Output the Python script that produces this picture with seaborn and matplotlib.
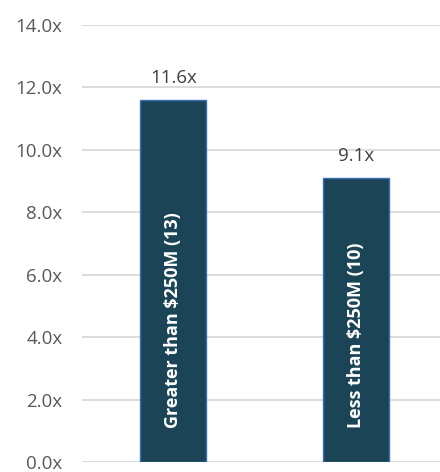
import matplotlib
matplotlib.use("Agg")
import matplotlib.pyplot as plt
import seaborn as sns
import pandas as pd

categories = ["Greater than $250M (13)", "Less than $250M (10)"]
values = [11.6, 9.1]
yticks = [0, 2, 4, 6, 8, 10, 12, 14]

sns.set_style("white")
plt.rcParams['font.family'] = ['Open Sans', 'DejaVu Sans']

df = pd.DataFrame({"cat": categories, "val": values})

fig = plt.figure(figsize=(4.4, 4.72), dpi=100)
# axes extends slightly beyond right edge (as in the cropped reference)
ax = fig.add_axes([82/440, (472-462)/472, (447.5-82)/440, 437/472])

sns.barplot(data=df, x="cat", y="val", ax=ax, color="#1B4556",
            width=0.36, edgecolor="#3A6FB5", linewidth=1.0, saturation=1)

ax.set_ylim(0, 14)
ax.set_xlim(-0.5, 1.5)
ax.set_yticks(yticks)
ax.set_yticklabels([f"{v:.1f}x" for v in yticks], color="#595959", fontsize=13.5)
ax.set_xticks([])
ax.set_xlabel("")
ax.set_ylabel("")
for s in ax.spines.values():
    s.set_visible(False)
ax.tick_params(axis='y', length=0, pad=14)
ax.yaxis.grid(True, color="#D9D9D9", linewidth=1.3)
ax.set_axisbelow(True)

for i, (c, v) in enumerate(zip(categories, values)):
    ax.annotate(f"{v:.1f}x", (i, v), xytext=(0, 9), textcoords="offset points",
                ha="center", va="bottom", fontsize=13.5, color="#404040")
    ax.text(i, 1.1, c, rotation=90, ha="center", va="bottom", color="white",
            fontsize=13, fontweight="bold")

fig.savefig("out.png", dpi=100)
